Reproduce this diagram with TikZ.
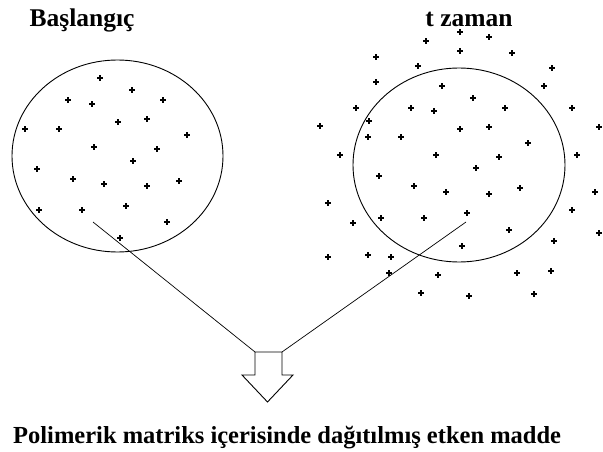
\documentclass[tikz,border=0pt]{standalone}
\usepackage{fontspec}
\setmainfont{Liberation Serif}
\begin{document}
\begin{tikzpicture}[x=1pt, y=-1pt,
    speck/.style={line width=1.2pt},
    title/.style={font=\fontsize{25.5}{30}\selectfont\bfseries, anchor=base, inner sep=0pt}]
  \useasboundingbox (0,0) rectangle (603,452);
  \def\rx{105.5}
  \def\ry{96}
  % the two circles
  \draw[line width=0.9pt] (117.5,156) ellipse [x radius=\rx, y radius=\ry];
  \draw[line width=0.9pt] (459,165) ellipse [x radius=106, y radius=97];
  % specks at the start
  \foreach \p in {(100,78),(132,90),(68,100),(92,104),(163,100),(118,122),
      (147,119),(25,129),(59,129),(187,135),(94,147),(157,149),(133,161),
      (37,169),(73,179),(104,184),(147,186),(179,181),(39,210),(82,210),
      (126,206),(167,222),(120,238)}
    \draw[speck] \p +(-2.6,0) -- +(2.6,0) \p +(0,-2.6) -- +(0,2.6);
  % specks after time t
  \foreach \p in {(460,32),(426,41),(489,37),(460,51),(512,53),(376,57),
      (418,66),(552,68),(376,82),(442,86),(544,86),(473,98),(356,108),
      (411,108),(434,111),(505,108),(572,108),(369,121),(320,126),(460,129),
      (489,127),(599,127),(368,137),(401,137),(528,143),(340,155),(436,155),
      (499,157),(577,155),(476,168),(379,176),(414,186),(446,192),(489,194),
      (520,188),(595,192),(328,203),(572,210),(467,213),(353,223),(381,218),
      (424,218),(509,230),(599,233),(462,246),(554,241),(328,257),(368,255),
      (391,257),(389,273),(438,275),(517,273),(551,271),(421,293),(469,296),
      (534,294)}
    \draw[speck] \p +(-2.6,0) -- +(2.6,0) \p +(0,-2.6) -- +(0,2.6);
  % block arrow
  \coordinate (shaftL) at (255,352);
  \coordinate (shaftR) at (282,352);
  \draw[line width=0.9pt] (shaftL) -- (shaftR) -- (282,375) -- (293,375)
    -- (267.5,402) -- (242,375) -- (255,375) -- cycle;
  \coordinate (startin) at (93,222);
  \coordinate (laterin) at (466,222);
  \draw[line width=0.7pt] (startin) -- (shaftL);
  \draw[line width=0.7pt] (laterin) -- (shaftR);
  % labels
  \node[title] (start) at (82,27) {Başlangıç};
  \node[title] (later) at (469,27) {t zaman};
  \node[title, font=\fontsize{24.5}{29}\selectfont\bfseries, anchor=base west]
    (caption) at (13,443)
    {Polimerik matriks içerisinde dağıtılmış etken madde};
\end{tikzpicture}
\end{document}
